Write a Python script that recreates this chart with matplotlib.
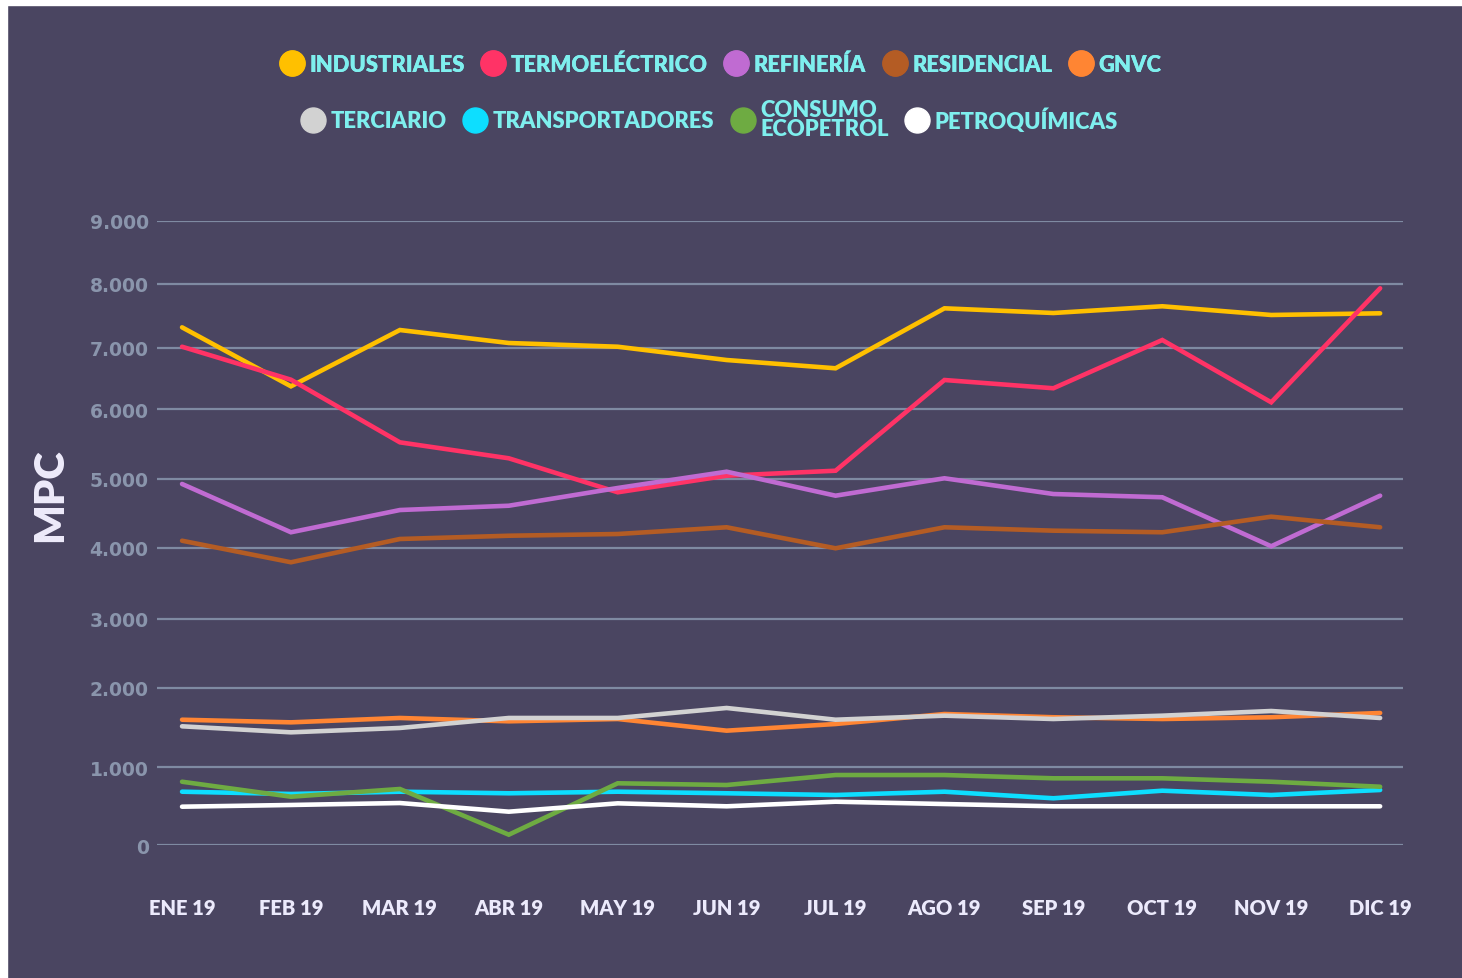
import numpy as np
import matplotlib.pyplot as plt
import matplotlib.patches as patches
from matplotlib.lines import Line2D


# data (MPC per month, 2019)
months = ["ENE 19", "FEB 19", "MAR 19", "ABR 19", "MAY 19", "JUN 19",
          "JUL 19", "AGO 19", "SEP 19", "OCT 19", "NOV 19", "DIC 19"]

industriales = [7323, 6375, 7281, 7078, 7020, 6804, 6669, 7620, 7547, 7652, 7516, 7542]
termoelectrico = [7020, 6483, 5524, 5294, 4804, 5043, 5115, 6478, 6343, 7125, 6114, 7933]
refineria = [4924, 4227, 4548, 4610, 4866, 5101, 4755, 5006, 4779, 4732, 4025, 4755]
residencial = [4105, 3799, 4130, 4177, 4202, 4299, 3996, 4299, 4250, 4227, 4452, 4299]
gnvc = [1600, 1567, 1622, 1580, 1609, 1462, 1546, 1672, 1631, 1609, 1631, 1685]
terciario = [1517, 1441, 1496, 1622, 1622, 1748, 1600, 1651, 1609, 1651, 1710, 1622]
transportadores = [687, 658, 687, 667, 687, 667, 645, 687, 603, 700, 645, 709]
consumo_ecopetrol = [815, 623, 722, 136, 795, 773, 901, 901, 859, 859, 815, 751]
petroquimicas = [495, 517, 542, 431, 538, 500, 559, 529, 500, 500, 500, 500]

yticks = [0, 1000, 2000, 3000, 4000, 5000, 6000, 7000, 8000, 9000]
ytick_labels = ["0", "1.000", "2.000", "3.000", "4.000", "5.000",
                "6.000", "7.000", "8.000", "9.000"]

# (label, values, colour), in legend order
series = [
    ("INDUSTRIALES", industriales, "#FFC000"),
    ("TERMOELÉCTRICO", termoelectrico, "#FF3366"),
    ("REFINERÍA", refineria, "#C06BD2"),
    ("RESIDENCIAL", residencial, "#B45C24"),
    ("GNVC", gnvc, "#FF8533"),
    ("TERCIARIO", terciario, "#D2D2D2"),
    ("TRANSPORTADORES", transportadores, "#0DDEFF"),
    ("CONSUMO\nECOPETROL", consumo_ecopetrol, "#6EAB42"),
    ("PETROQUÍMICAS", petroquimicas, "#FFFFFF"),
]

# the original gridlines are not evenly spaced, so use a piecewise scale
scale_vals = [-1000, 0, 1000, 2000, 3000, 4000, 5000, 6000, 7000, 8000, 9000, 10000]
scale_pos = [-78, 0, 78, 157.3, 226.3, 297.3, 366.6, 436, 497.3, 561.3, 624.3, 687.3]


def forward(v):
    return np.interp(v, scale_vals, scale_pos)


def inverse(p):
    return np.interp(p, scale_pos, scale_vals)


bg = "#4A4561"
font = ["Lato", "DejaVu Sans"]

fig = plt.figure(figsize=(14.62, 9.79), dpi=100, facecolor=bg)
W, H = 1462, 979
ax = fig.add_axes([157 / W, (H - 846.3) / H, (1403 - 157) / W, (846.3 - 222) / H])
ax.set_facecolor(bg)

x = np.arange(len(months))
for label, vals, color in series:
    ax.plot(x, vals, color=color, lw=3.3, solid_capstyle="round",
            solid_joinstyle="miter", zorder=3)

ax.set_yscale("function", functions=(forward, inverse))
ax.set_ylim(0, 9000)
ax.set_xlim(-0.23, 11.21)

ax.set_yticks(yticks)
ax.set_yticklabels(ytick_labels, fontfamily="DejaVu Sans", fontweight="bold",
                   fontsize=13.5, color="#8A95AC")
ax.set_xticks(x)
ax.set_xticklabels(months, fontfamily=font, fontweight="heavy",
                   fontsize=14.5, color="#ECEAFC")
ax.tick_params(axis="y", length=0, pad=6)
ax.tick_params(axis="x", length=0, pad=38)
ax.yaxis.grid(True, color="#7F8AA2", lw=1.6, zorder=1)
ax.set_axisbelow(True)
for s in ax.spines.values():
    s.set_visible(False)

fig.text(50 / W, 1 - 495 / H, "MPC", rotation=90, ha="center", va="center",
         fontfamily=font, fontweight="heavy", fontsize=30, color="#EEEBFB")


# legend in two centred rows
def make_legend(items, cx, cy):
    handles = [Line2D([], [], ls="none", marker="o", markersize=18,
                      markerfacecolor=c, markeredgecolor=c) for _, _, c in items]
    leg = fig.legend(handles, [lab for lab, _, _ in items], ncol=len(items),
                     loc="center", bbox_to_anchor=(cx / W, 1 - cy / H),
                     frameon=False, handlelength=1.0, handletextpad=0.3,
                     columnspacing=0.8,
                     prop={"family": font, "weight": "heavy", "size": 15.8})
    for t in leg.get_texts():
        t.set_color("#7EEFEE")
        t.set_linespacing(0.9)
    return leg


leg1 = make_legend(series[:5], 721, 65)
leg2 = make_legend(series[5:], 710, 120)
fig.add_artist(leg1)

# white strip at left and top of the original picture
fig.patches.append(patches.Rectangle((0, 0), 7 / W, 1, transform=fig.transFigure,
                                     color="white", zorder=10))
fig.patches.append(patches.Rectangle((0, 1 - 6 / H), 1, 6 / H, transform=fig.transFigure,
                                     color="white", zorder=10))

fig.savefig("out.png", dpi=100, facecolor=bg)
